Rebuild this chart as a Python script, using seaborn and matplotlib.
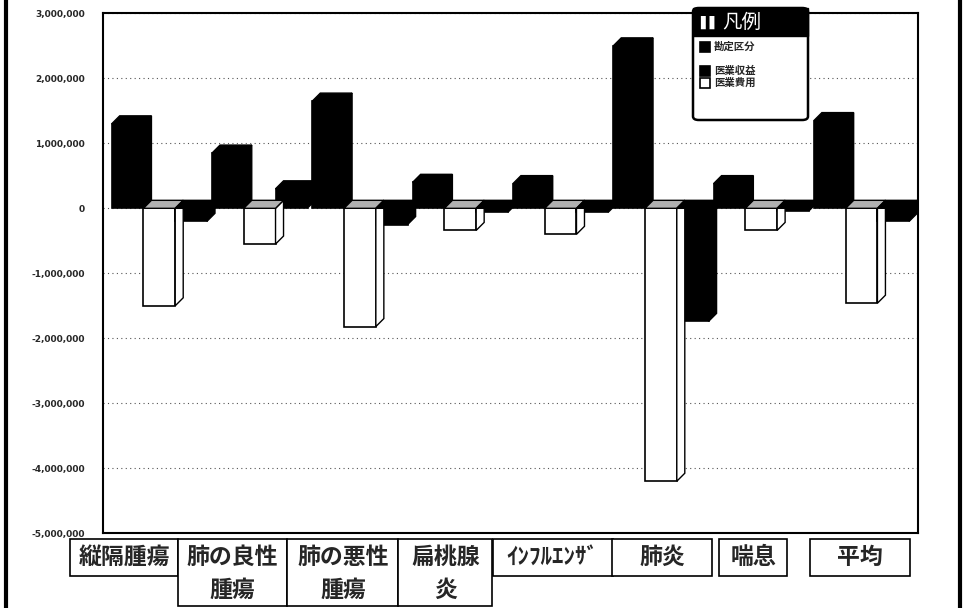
import matplotlib
matplotlib.use("Agg")
import matplotlib.pyplot as plt
import seaborn as sns
import pandas as pd
import numpy as np
from matplotlib.patches import Polygon, Rectangle, FancyBboxPatch
from matplotlib.lines import Line2D
from matplotlib.ticker import FuncFormatter

categories = ["縦隔腫瘍", "肺の良性\n腫瘍", "肺の悪性\n腫瘍", "扁桃腺\n炎", "ｲﾝﾌﾙｴﾝｻﾞ", "肺炎", "喘息", "平均"]
series = ["医業収益", "医業費用", "差額"]
revenue = [1300000, 850000, 1650000, 400000, 380000, 2500000, 380000, 1350000]
cost = [-1500000, -550000, -1820000, -340000, -400000, -4200000, -340000, -1460000]
diff = [-200000, 300000, -250000, -60000, -60000, -1740000, -40000, -200000]
series_colors = ["black", "white", "black"]
legend_title = "凡例"
legend_labels = ["勘定区分", "医業収益", "医業費用"]
legend_colors = ["black", "black", "white"]
y_ticks = [3000000, 2000000, 1000000, 0, -1000000, -2000000, -3000000, -4000000, -5000000]

# label-box styling (pixel offsets from tick centre and box widths)
label_dx = [-35, -27, -17, -15, -8, 1, -8, -2]
label_w = [108, 109, 111, 94, 120, 100, 68, 100]

sns.set_theme(style="white")
plt.rcParams["font.family"] = ["Noto Sans CJK JP", "DejaVu Sans"]

rows = []
for s, vals in zip(series, [revenue, cost, diff]):
    for c, v in zip(categories, vals):
        rows.append({"category": c, "series": s, "value": v})
df = pd.DataFrame(rows)

W, H = 964, 608
fig = plt.figure(figsize=(9.64, 6.08), dpi=100)
ax = fig.add_axes([0.107, 0.123, 0.845, 0.855])

sns.barplot(data=df, x="category", y="value", hue="series", order=categories,
            hue_order=series, palette=series_colors, width=0.95, ax=ax,
            edgecolor="black", linewidth=1.2, legend=False, saturation=1)

ax.set_ylim(-5000000, 3000000)
ax.set_xlim(-0.56, 7.56)
ax.set_yticks(y_ticks)
ax.yaxis.set_major_formatter(FuncFormatter(lambda v, p: f"{int(v):,}" if v != 0 else "0"))
ax.grid(axis="y", linestyle=(0, (1, 3)), color="#555555", linewidth=0.8)
ax.set_axisbelow(True)
ax.set_xlabel("")
ax.set_ylabel("")
ax.tick_params(axis="y", length=0, pad=13, labelsize=6.5)
for t in ax.get_yticklabels():
    t.set_fontweight("bold")
    t.set_family(["DejaVu Sans"])
ax.set_xticks(range(len(categories)))
ax.set_xticklabels([])
ax.tick_params(axis="x", length=0)

for sp in ax.spines.values():
    sp.set_color("black")
    sp.set_linewidth(1.5)

fig.canvas.draw()

# 3D faces derived from the bar patches
dx, dy = 8, 8
n = len(categories)
for i, p in enumerate(ax.patches[: len(series) * n]):
    h = i // n
    x0, y0 = p.get_x(), p.get_y()
    w, hh = p.get_width(), p.get_height()
    (X0, Ya), (X1, Yb) = ax.transData.transform([(x0, y0), (x0 + w, y0 + hh)])
    Ylo, Yhi = min(Ya, Yb), max(Ya, Yb)
    z = 2 + h * 0.3
    p.set_zorder(z)
    face = "black" if series_colors[h] == "black" else "white"
    topc = "black" if series_colors[h] == "black" else "#b0b0b0"
    side = Polygon([(X1, Ylo), (X1, Yhi), (X1 + dx, Yhi + dy), (X1 + dx, Ylo + dy)],
                   closed=True, transform=None, facecolor=face, edgecolor="black",
                   linewidth=1.0, zorder=z)
    top = Polygon([(X0, Yhi), (X1, Yhi), (X1 + dx, Yhi + dy), (X0 + dx, Yhi + dy)],
                  closed=True, transform=None, facecolor=topc, edgecolor="black",
                  linewidth=1.0, zorder=z)
    fig.add_artist(side)
    fig.add_artist(top)

# category labels in boxes below the floor
box_top = H - 539
line_h = 33
for i, (lab, ddx, bw) in enumerate(zip(categories, label_dx, label_w)):
    cx = ax.transData.transform((i, 0))[0] + ddx
    nlines = lab.count("\n") + 1
    bh = 37 + (nlines - 1) * 30
    fig.add_artist(Rectangle((cx - bw / 2, box_top - bh), bw, bh, transform=None,
                             facecolor="white", edgecolor="black", linewidth=1.2,
                             zorder=5))
    for k, line in enumerate(lab.split("\n")):
        fig.text(cx / W, (box_top - 18 - k * line_h) / H, line, ha="center", va="center",
                 fontsize=16.5, fontweight="bold", zorder=6)

# legend drawn by hand
lx0, lx1, ly0, ly1 = 693, 808, 8, 120
fig.add_artist(FancyBboxPatch((lx0 / W, 1 - ly1 / H), (lx1 - lx0) / W, (ly1 - ly0) / H,
                              boxstyle="round,pad=0,rounding_size=0.006",
                              transform=fig.transFigure, facecolor="white",
                              edgecolor="black", linewidth=1.8, zorder=8))
fig.add_artist(Rectangle((lx0 / W, 1 - 36 / H), (lx1 - lx0) / W, 28 / H,
                         transform=fig.transFigure, facecolor="black",
                         edgecolor="black", zorder=9))
fig.text(700 / W, 1 - 22 / H, "▌▌", color="white", fontsize=9, va="center",
         ha="left", zorder=10, family=["DejaVu Sans"])
fig.text(722 / W, 1 - 22 / H, legend_title, color="white", fontsize=14, va="center",
         ha="left", zorder=10)
for (lab, col), yy in zip(zip(legend_labels, legend_colors), [47, 71, 83]):
    fig.add_artist(Rectangle((700 / W, 1 - (yy + 5) / H), 10 / W, 10 / H,
                             transform=fig.transFigure, facecolor=col,
                             edgecolor="black", linewidth=1.2, zorder=10))
    fig.text(714 / W, 1 - yy / H, lab, fontsize=7.5, fontweight="bold", va="center",
             ha="left", zorder=10)

fig.add_artist(Line2D([0.006, 0.006], [0, 1], color="black", linewidth=3))
fig.add_artist(Line2D([0.996, 0.996], [0, 1], color="black", linewidth=3))

fig.savefig("out.png", dpi=100)
